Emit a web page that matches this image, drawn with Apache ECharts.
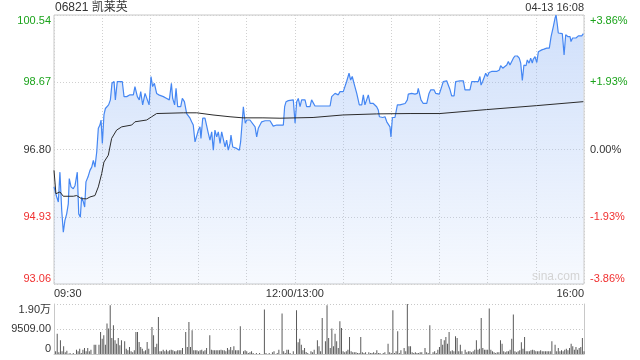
<!DOCTYPE html>
<html>
<head>
<meta charset="utf-8">
<script src="https://cdn.jsdelivr.net/npm/echarts@6/dist/echarts.min.js"></script>
<style>
html,body{margin:0;padding:0;background:#fff;}
#chart{width:640px;height:360px;}
</style>
</head>
<body>
<div id="chart"></div>
<script>
const stockTitle = '06821 凯莱英';
const stampText = '04-13 16:08';
const watermark = 'sina.com';
const prevClose = 96.80;

const priceMin = [0,1.7,2.7,3.7,4.8,5.8,6.8,7.9,8.9,9.5,10.6,12,13.1,14.5,15.4,16.4,17.2,18.3,19.1,19.9,21.2,22.4,23.5,24.5,25.5,26.6,27.6,28.6,29.3,30.1,31.1,32,33.2,34,35.1,36.1,37.4,38.2,39.4,41.1,42.5,43.6,45.3,47.3,49.4,50.4,51.9,53.1,54,55.2,56.7,57.7,59.2,60.4,61.4,62.5,63.9,65.2,66.4,68.1,70.2,71.8,73.1,73.9,75.1,76,77,78.9,79.9,80.5,81.2,82.6,83.6,84.7,85.7,86.7,87.8,88.8,89.9,90.9,91.5,92.6,94,95.1,96.1,97.1,98.2,99.2,100.2,101.3,102.3,103.4,104.4,105.4,106.5,107.5,108.5,109.6,110.2,111.3,112.1,113.7,115.4,116.2,117.3,117.9,118.7,119.1,120,122,123.1,125.2,126.2,127.2,128.3,129.3,131.4,134.5,135.5,136.5,138.7,142.8,143.6,144.5,145.9,146.9,149,150.1,151.1,152.1,153.2,154.2,156.3,157.3,159.4,160.4,161.5,162.5,171.9,172.9,175,176,177,178.1,180.1,181.2,182.2,183.7,184.7,185.7,186.8,188.5,189.5,190.1,191.6,192.6,193.6,194.7,195.7,196.8,198.8,200.9,201.9,202.6,204.7,206.1,207.2,208.2,209.2,209.8,210.7,212.3,213.8,215.4,216.5,218.6,220,220.6,222.7,224.8,226.2,226.8,227.9,228.5,229.9,232.1,233.5,234.6,235.6,236.6,237.7,238.7,239.9,241.4,242.4,244.5,245.5,246.6,247.6,249.1,250.1,252.8,254.9,255.9,259,260.1,261.1,262.1,263.2,264.2,265.2,265.9,266.9,267.9,268.8,269.8,270.9,272.5,275.6,277.3,278.1,279.4,280.2,281.9,282.9,283.9,285,286,287,288.5,289.7,290.6,291.6,292.6,293.9,294.7,295.8,296.8,297.8,298.4,299.5,300.6,301.6,302.6,303.7,305.1,306.8,308.4,309.5,310.9,312,312.6,313.4,314,315.1,316.5,317.6,318.6,319.9,321.3,321.9,322.9,324,325,326.5,327.5,328.6,329.6];
const priceVal = [95.76,95.48,95.34,96.17,95.11,94.50,94.83,95.01,95.29,95.99,95.76,95.71,95.80,96.17,95.01,94.92,95.48,95.34,95.20,95.90,96.04,96.22,96.31,96.50,96.31,96.73,97.39,97.48,97.62,96.97,97.76,97.94,97.99,98.04,98.18,98.64,98.69,98.18,98.69,98.69,98.69,98.27,98.27,98.32,98.32,98.55,98.27,98.18,98.41,98.04,98.36,98.41,98.04,98.83,98.55,98.64,98.36,98.32,98.32,98.27,98.22,98.18,98.64,98.22,98.04,98.50,97.99,97.99,98.22,98.27,98.13,97.80,97.85,97.67,97.57,97.48,97.01,97.06,97.34,97.43,97.11,97.67,97.67,97.62,97.25,97.06,97.29,96.78,97.34,97.15,97.29,96.97,97.29,97.34,96.87,97.06,96.78,96.97,97.20,96.87,96.83,96.83,96.78,97.01,97.06,97.99,97.67,97.53,97.62,97.62,97.57,97.43,97.15,97.39,97.39,97.57,97.60,97.60,97.57,97.45,97.48,97.48,97.99,98.13,98.16,98.13,98.18,97.53,98.13,98.22,97.99,98.18,98.18,97.99,97.99,98.18,98.20,98.01,98.01,98.27,98.36,98.41,98.32,98.41,98.41,98.46,98.69,98.92,98.73,98.83,98.64,98.36,98.41,98.04,98.04,98.32,98.04,98.08,98.32,98.08,98.08,97.99,97.90,97.71,97.69,97.71,97.57,97.57,97.43,97.15,97.69,97.69,98.04,98.04,97.99,98.08,98.18,98.34,98.36,98.34,98.36,98.50,98.50,98.18,98.08,98.08,98.36,98.46,98.44,98.46,98.36,98.38,98.34,98.55,98.69,98.71,98.69,98.46,98.29,98.29,98.69,98.71,98.71,98.46,98.46,98.69,98.64,98.69,98.71,98.69,98.83,98.59,98.69,98.73,98.92,98.83,98.94,98.97,98.97,99.01,99.13,99.06,99.11,99.15,99.25,99.15,99.25,99.34,99.40,99.40,99.34,99.20,98.72,99.15,99.13,99.29,99.20,99.34,99.20,99.31,99.38,99.22,99.52,99.54,99.57,99.59,99.62,99.62,99.94,100.22,100.46,100.54,100.27,100.04,100.02,100.02,99.43,99.99,99.94,99.94,99.80,99.90,99.85,99.90,99.96,99.99,99.96,100.02];

const avgMin = [0,1.2,3.7,5.8,12,14.1,17.2,20.4,22.4,25.5,27.6,29.7,31.1,33.8,35.9,39,42.2,48.4,50.4,57.7,60.8,63.9,80.5,88.9,99,109.6,117.7,130.1,140.7,161.3,179.9,200.9,221.7,240.3,269.4,300.5,329.6];
const avgVal = [96.22,95.57,95.62,95.50,95.50,95.52,95.43,95.43,95.48,95.52,95.76,96.13,96.45,96.64,97.11,97.34,97.43,97.48,97.57,97.62,97.71,97.80,97.82,97.82,97.76,97.71,97.68,97.68,97.67,97.69,97.76,97.79,97.80,97.80,97.91,98.02,98.13];

const volMin = [1,2,3,4,5,6,7,8,9,10,12,14,15,16,17,18,19,20,21,22,23,25,26,28,29,30,31,32,33,34,35,36,37,38,39,40,41,42,44,45,46,47,48,49,50,51,52,53,54,55,56,57,58,59,61,62,63,64,65,66,67,68,69,70,71,72,73,74,75,76,77,78,79,80,82,83,84,85,86,87,88,89,90,91,92,93,94,95,97,98,99,100,101,102,103,104,105,106,107,108,109,110,111,112,113,114,115,116,118,119,120,121,122,123,124,126,128,131,132,134,136,137,139,140,142,143,144,145,146,147,149,151,152,153,154,155,156,157,158,160,161,162,164,165,166,167,169,170,171,172,173,174,175,176,177,178,179,180,181,182,183,184,185,186,187,188,189,190,191,192,193,194,196,197,198,199,200,201,202,203,205,206,208,209,210,211,212,213,214,215,216,218,219,220,221,222,223,224,225,226,227,228,229,231,232,233,234,236,237,238,239,240,241,242,243,244,245,246,247,248,249,250,251,252,253,254,256,257,258,259,260,261,262,263,264,265,266,267,268,269,270,271,272,273,274,275,276,277,278,279,280,281,282,283,284,285,286,287,288,289,290,291,292,293,294,295,296,297,298,299,300,301,302,303,304,305,306,307,308,309,310,312,313,314,315,316,317,318,319,320,321,322,323,324,325,326,327,328,329,330];
const volVal = [1016,7747,635,5207,1016,2921,635,1270,127,381,381,1651,1016,2032,381,1651,2286,1016,2286,1016,1651,3556,3556,3556,8382,5842,7112,3556,11557,9652,18542,6096,10922,5207,3937,6096,3302,5207,4826,2032,1397,2667,1016,635,1397,8382,8382,4572,2667,2032,1016,1397,4572,2032,10287,7112,2667,3937,14097,1016,1016,1651,1016,1651,1016,1397,1651,1397,1016,1016,1397,1397,1397,2286,8382,2667,12192,2667,9017,1397,1397,1397,1016,1397,1651,1016,1397,2286,7112,1651,1397,1397,1397,1397,1397,1651,1397,1397,1016,2286,1651,2667,1397,2921,1397,1397,1397,10541,1016,1397,1016,381,635,1016,381,381,381,16891,381,381,635,1016,381,1651,15367,1016,381,1651,1651,381,1016,16637,4445,5842,3556,1397,2286,762,381,1016,635,1651,5207,2921,1016,13716,4826,18542,6096,2286,9652,2921,7747,4826,2286,12446,9906,1016,635,1016,1651,6477,1016,635,635,635,381,381,6477,635,381,635,635,381,381,635,381,1397,381,381,381,635,3937,635,381,16637,381,1016,8636,381,1397,2286,1016,19018,2921,2921,635,381,635,381,381,635,635,2286,635,381,10922,635,1016,381,1651,2667,5715,3556,5207,6477,3937,8382,1016,1397,1016,6731,6096,1016,3556,1016,1651,635,1016,1016,635,1016,1651,5207,1651,2032,13716,2286,1651,1651,1651,17272,1651,1016,635,381,635,635,5207,3937,1016,635,1016,1016,1651,5842,14986,1016,635,1016,1397,4445,2032,6477,1016,1016,1016,1397,1651,1397,1016,1016,1016,1397,1016,1016,1016,1016,1016,1016,4826,3556,1016,2286,1016,1397,1016,1651,2032,1397,2286,3937,2921,1651,2667,1651,2286,2667,6096,1016];

const xTickMinutes = [0, 150, 330];
const xTickLabels = ['09:30', '12:00/13:00', '16:00'];
const priceStep = 1.87;
const volMax = 19018;
const volTickValues = [0, 9509, 19018];
const volTickLabels = ['0', '9509.00', '1.90万'];

const GREEN = '#1ba31b', RED = '#f03030', DARK = '#333';
const FONT = "'Liberation Sans', Arial, 'Noto Sans CJK SC', sans-serif";

const priceData = priceMin.map((m, i) => [m, +(priceVal[i] - prevClose).toFixed(4)]);
const avgData = avgMin.map((m, i) => [m, +(avgVal[i] - prevClose).toFixed(4)]);
const volData = volMin.map((m, i) => [m, volVal[i]]);

function signColor(v) { return v > 0.001 ? GREEN : (v < -0.001 ? RED : DARK); }

const chart = echarts.init(document.getElementById('chart'), null, {renderer: 'canvas'});
chart.setOption({
  animation: false,
  textStyle: {fontFamily: FONT},
  grid: [
    {left: 54, right: 56, top: 15, height: 269, show: true, borderColor: '#c8c8c8', borderWidth: 1, backgroundColor: 'transparent'},
    {left: 54, right: 56, top: 304, height: 50}
  ],
  xAxis: [
    {type: 'value', gridIndex: 0, min: 0, max: 330, interval: 30,
     axisLine: {show: false}, axisTick: {show: false},
     splitLine: {show: true, lineStyle: {color: '#d0d0d0', type: [1, 2]}},
     axisLabel: {show: true, color: DARK, fontSize: 11, fontFamily: FONT, margin: 4,
       alignMinLabel: 'left', alignMaxLabel: 'right', showMinLabel: true, showMaxLabel: true,
       formatter: v => { const k = xTickMinutes.indexOf(Math.round(v)); return k >= 0 ? xTickLabels[k] : ''; }}},
    {type: 'value', gridIndex: 1, min: 0, max: 330, interval: 30,
     axisLine: {show: true, lineStyle: {color: '#c8c8c8'}}, axisTick: {show: false},
     splitLine: {show: false}, axisLabel: {show: false}}
  ],
  yAxis: [
    {type: 'value', gridIndex: 0, min: -2 * priceStep, max: 2 * priceStep, interval: priceStep,
     axisLine: {show: false}, axisTick: {show: false},
     splitLine: {show: true, lineStyle: {color: '#d0d0d0', type: [1, 2]}},
     axisLabel: {fontSize: 11, fontFamily: FONT, margin: 3,
       verticalAlignMinLabel: 'bottom', verticalAlignMaxLabel: 'top',
       formatter: v => (prevClose + v).toFixed(2), color: v => signColor(v)}},
    {type: 'value', gridIndex: 0, position: 'right', min: -2 * priceStep, max: 2 * priceStep, interval: priceStep,
     axisLine: {show: false}, axisTick: {show: false}, splitLine: {show: false},
     axisLabel: {fontSize: 11, fontFamily: FONT, margin: 6,
       verticalAlignMinLabel: 'bottom', verticalAlignMaxLabel: 'top',
       formatter: v => { const p = v / prevClose * 100; return (p > 0.001 ? '+' : '') + p.toFixed(2) + '%'; },
       color: v => signColor(v)}},
    {type: 'value', gridIndex: 1, min: 0, max: volMax, interval: volMax / 2,
     axisLine: {show: true, lineStyle: {color: '#c8c8c8'}}, axisTick: {show: false},
     splitLine: {show: true, lineStyle: {color: '#c8c8c8', type: [1, 2]}},
     axisLabel: {fontSize: 11, fontFamily: FONT, margin: 3, color: DARK,
       verticalAlignMinLabel: 'bottom', verticalAlignMaxLabel: 'top',
       formatter: v => { const k = volTickValues.indexOf(Math.round(v)); return k >= 0 ? volTickLabels[k] : ''; }}},
    {type: 'value', gridIndex: 1, position: 'right', min: 0, max: volMax,
     axisLine: {show: true, lineStyle: {color: '#c8c8c8'}}, axisTick: {show: false},
     splitLine: {show: false}, axisLabel: {show: false}}
  ],
  graphic: [
    {type: 'text', left: 55, top: 2, z: 100, style: {text: stockTitle, fill: DARK, font: "12px 'Liberation Sans', 'Noto Sans CJK SC', sans-serif"}},
    {type: 'text', right: 56, top: 2, z: 100, style: {text: stampText, fill: DARK, font: "11px 'Liberation Sans', sans-serif"}},
    {type: 'text', left: 532, top: 271, z: 100, style: {text: watermark, fill: '#d4d4d4', font: "12px 'Liberation Sans', sans-serif"}}
  ],
  series: [
    {type: 'line', xAxisIndex: 0, yAxisIndex: 0, data: priceData, showSymbol: false, symbol: 'none',
     lineStyle: {color: '#4587f3', width: 1.2},
     areaStyle: {origin: 'start', opacity: 1, color: new echarts.graphic.LinearGradient(0, 0, 0, 1, [
       {offset: 0, color: 'rgba(150,185,245,0.45)'}, {offset: 1, color: 'rgba(150,185,245,0.08)'}])},
     z: 3},
    {type: 'line', xAxisIndex: 0, yAxisIndex: 0, data: avgData, showSymbol: false, symbol: 'none',
     lineStyle: {color: '#2b2b2b', width: 1}, z: 4},
    {type: 'bar', xAxisIndex: 1, yAxisIndex: 2, data: volData, barWidth: 1,
     itemStyle: {color: '#5a5a5a'}}
  ]
});
</script>
</body>
</html>
